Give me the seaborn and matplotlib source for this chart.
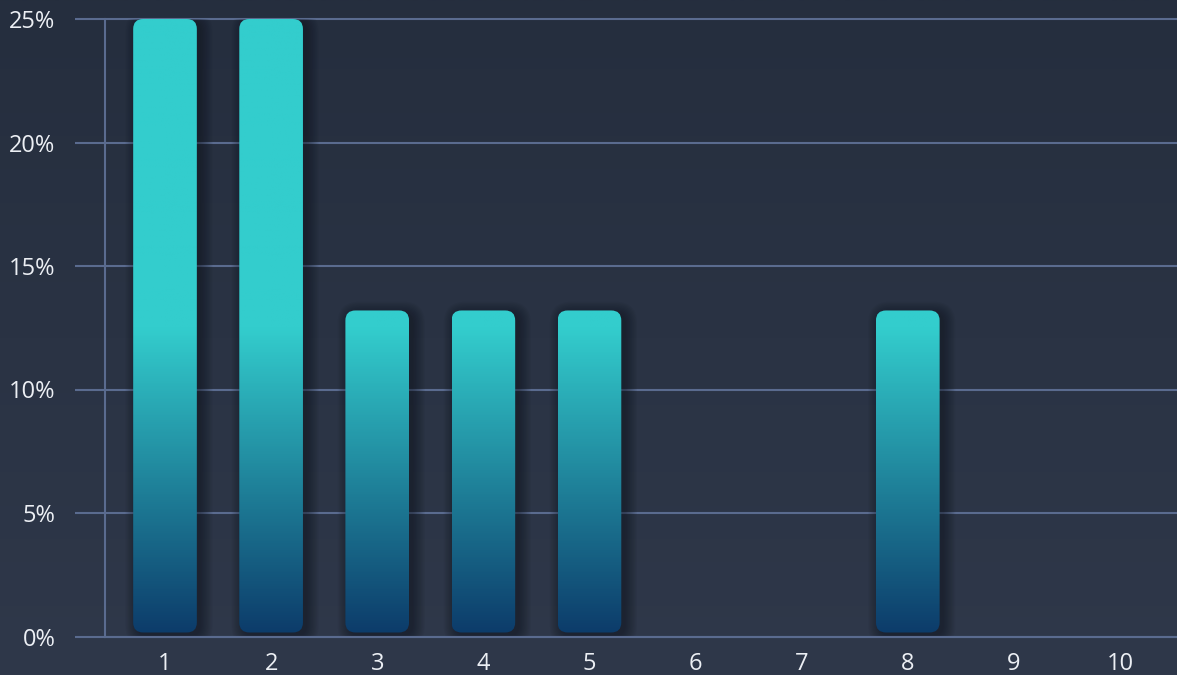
import numpy as np
import matplotlib
matplotlib.use("Agg")
import matplotlib.pyplot as plt
import seaborn as sns
import pandas as pd
from matplotlib.patches import FancyBboxPatch
from matplotlib.colors import LinearSegmentedColormap
from matplotlib.transforms import IdentityTransform

# ---- data ----
categories = ["1", "2", "3", "4", "5", "6", "7", "8", "9", "10"]
values = [25, 25, 13.2, 13.2, 13.2, 0, 0, 13.2, 0, 0]
y_ticks = [0, 5, 10, 15, 20, 25]
y_tick_labels = ["0%", "5%", "10%", "15%", "20%", "25%"]

# ---- style ----
sns.set_style("dark")
plt.rcParams["font.family"] = ["Open Sans", "DejaVu Sans"]

W, H = 1177, 675
DPI = 100
grid_col = "#5a6b8f"
label_col = "#eceff4"
cyan = "#33cdcd"
dark = "#0c3a69"
bg_top = "#252e3e"
bg_bot = "#2f384a"

fig = plt.figure(figsize=(W / DPI, H / DPI), dpi=DPI)

# background gradient
bgax = fig.add_axes([0, 0, 1, 1], zorder=-5)
bg_cmap = LinearSegmentedColormap.from_list("bg", [bg_bot, bg_top])
bgax.imshow(np.linspace(0, 1, 256).reshape(-1, 1), cmap=bg_cmap, aspect="auto",
            origin="lower", extent=[0, 1, 0, 1])
bgax.axis("off")

# main axes
ax_left, ax_right, ax_top, ax_bottom = 105, 1177, 19, 636.5
ax = fig.add_axes([ax_left / W, 1 - ax_bottom / H, (ax_right - ax_left) / W,
                   (ax_bottom - ax_top) / H], zorder=1)
ax.set_facecolor("none")

df = pd.DataFrame({"cat": categories, "val": values})
sns.barplot(data=df, x="cat", y="val", order=categories, ax=ax, width=0.6,
            color=cyan, errorbar=None)

ax.set_xlim(-0.5655, 9.537)
ax.set_ylim(0, 25)
ax.set_xlabel("")
ax.set_ylabel("")

ax.set_yticks(y_ticks)
ax.set_yticklabels(y_tick_labels)
ax.tick_params(axis="y", length=21.6, width=1.5, color=grid_col, pad=14,
               labelsize=17, labelcolor=label_col, left=True)
ax.tick_params(axis="x", length=0, pad=11, labelsize=17, labelcolor=label_col,
               bottom=True)
ax.yaxis.grid(True, color=grid_col, lw=1.5)
ax.xaxis.grid(False)
ax.set_axisbelow(True)
for l in ax.get_ygridlines():
    l.set_clip_on(False)
for s in ["top", "right"]:
    ax.spines[s].set_visible(False)
for s in ["left", "bottom"]:
    ax.spines[s].set_visible(True)
    ax.spines[s].set_color(grid_col)
    ax.spines[s].set_linewidth(1.5)

bar_cmap = LinearSegmentedColormap.from_list("bar", [(0, dark), (0.5, cyan), (1, cyan)])
grad = np.linspace(0, 1, 512).reshape(-1, 1)
radius = 10
gap = 4

for p in list(ax.patches):
    x0, w, h = p.get_x(), p.get_width(), p.get_height()
    p.remove()
    if h <= 0:
        continue
    (x0p, y0p) = ax.transData.transform((x0, 0))
    (x1p, y1p) = ax.transData.transform((x0 + w, h))
    yb = y0p + gap
    wp = x1p - x0p
    hp = y1p - yb
    # soft shadow
    for i in range(10):
        s = i * 1.3
        sh = FancyBboxPatch((x0p + 4 - s, yb - 3 - s), wp + 2 * s, hp + 2 * s,
                            boxstyle=f"round,pad=0,rounding_size={radius + s}",
                            fc="#0e131c", ec="none", alpha=0.06,
                            transform=IdentityTransform(), zorder=2)
        ax.add_patch(sh)
    bar = FancyBboxPatch((x0p, yb), wp, hp,
                         boxstyle=f"round,pad=0,rounding_size={radius}",
                         fc="none", ec="none", transform=IdentityTransform(), zorder=3)
    ax.add_patch(bar)
    im = ax.imshow(grad, extent=[x0, x0 + w, 0, 25], origin="lower", cmap=bar_cmap,
                   aspect="auto", zorder=3, interpolation="bilinear")
    im.set_clip_path(bar)

ax.set_xlim(-0.5655, 9.537)
ax.set_ylim(0, 25)

fig.savefig("out.png", dpi=DPI)
